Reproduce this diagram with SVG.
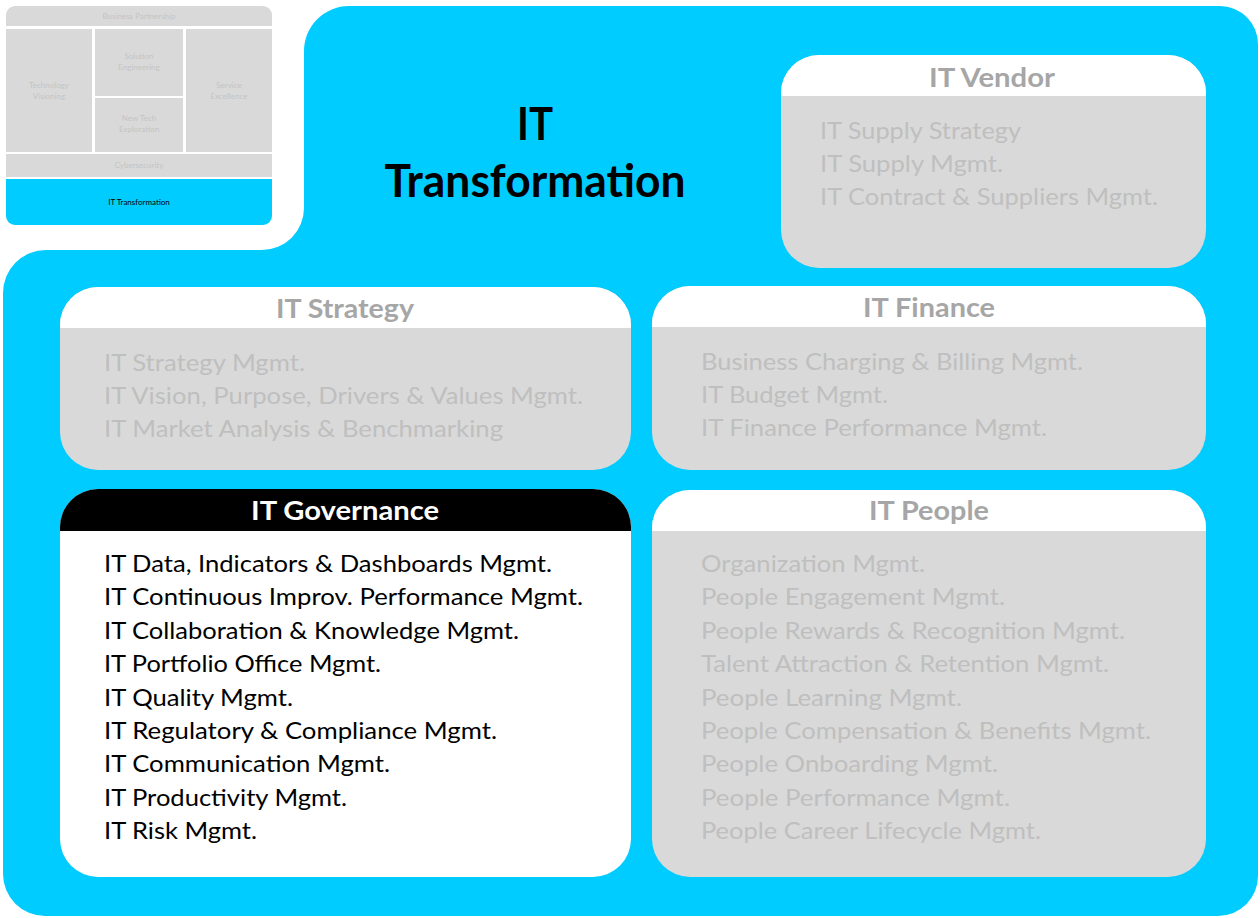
<svg xmlns="http://www.w3.org/2000/svg" width="1260" height="918" viewBox="0 0 1260 918">
<style>
.mini{fill:#d9d9d9}
.mt{font-family:Lato,"Liberation Sans",sans-serif;font-size:8px;fill:#c4c4c4;text-anchor:middle}
.body{fill:#d9d9d9}
.hdr{fill:#ffffff}
.ttl{font-family:Lato,"Liberation Sans",sans-serif;font-weight:bold;font-size:27px;fill:#a6a6a6;text-anchor:middle}
.it{font-family:Lato,"Liberation Sans",sans-serif;font-size:24px;fill:#bfbfbf}
.itb{font-family:Lato,"Liberation Sans",sans-serif;font-size:24px;fill:#000000}
</style>
<rect width="1260" height="918" fill="#ffffff"/>
<g id="mini-map">
<rect x="6" y="6" width="266" height="219" rx="9" fill="#ffffff"/>
<path class="mini" d="M6,15 A9,9 0 0 1 15,6 H263 A9,9 0 0 1 272,15 V26 H6 Z"/>
<rect class="mini" x="6" y="29" width="86" height="123"/>
<rect class="mini" x="95" y="29" width="88" height="67"/>
<rect class="mini" x="95" y="98" width="88" height="54"/>
<rect class="mini" x="186" y="29" width="86" height="123"/>
<rect class="mini" x="6" y="154" width="266" height="23"/>
<path d="M6,179 H272 V216 A9,9 0 0 1 263,225 H15 A9,9 0 0 1 6,216 Z" fill="#00ccff"/>
<text class="mt" x="139" y="19">Business Partnership</text>
<text class="mt" x="49" y="88">Technology</text>
<text class="mt" x="49" y="99">Visioning</text>
<text class="mt" x="139" y="59">Solution</text>
<text class="mt" x="139" y="70">Engineering</text>
<text class="mt" x="139" y="121">New Tech</text>
<text class="mt" x="139" y="132">Exploration</text>
<text class="mt" x="229" y="88">Service</text>
<text class="mt" x="229" y="99">Excellence</text>
<text class="mt" x="139" y="168">Cybersecurity</text>
<text x="139" y="205" font-family="Lato,'Liberation Sans',sans-serif" font-size="8" fill="#000000" text-anchor="middle">IT Transformation</text>
</g>
<g id="background">
<path d="M349,6 H1220 A38,38 0 0 1 1258,44 V876 A40,40 0 0 1 1218,916 H45 A42,42 0 0 1 3,874 V293 A43,43 0 0 1 46,250 H262 A42,42 0 0 0 304,208 V51 A45,45 0 0 1 349,6 Z" fill="#00ccff"/>
<text x="535" y="140" font-family="Lato,'Liberation Sans',sans-serif" font-weight="bold" font-size="45" text-anchor="middle" textLength="36" lengthAdjust="spacingAndGlyphs">IT</text>
<text x="535" y="197" font-family="Lato,'Liberation Sans',sans-serif" font-weight="bold" font-size="45" text-anchor="middle" textLength="301" lengthAdjust="spacingAndGlyphs">Transformation</text>
</g>
<g id="it-vendor">
<rect class="body" x="781" y="55" width="425" height="213" rx="38"/>
<path class="hdr" d="M781,93 A38,38 0 0 1 819,55 H1168 A38,38 0 0 1 1206,93 V96 H781 Z"/>
<text class="ttl" x="992" y="87" textLength="126" lengthAdjust="spacingAndGlyphs">IT Vendor</text>
<text class="it" x="820" y="139" textLength="201" lengthAdjust="spacingAndGlyphs">IT Supply Strategy</text>
<text class="it" x="820" y="172" textLength="183" lengthAdjust="spacingAndGlyphs">IT Supply Mgmt.</text>
<text class="it" x="820" y="205" textLength="338" lengthAdjust="spacingAndGlyphs">IT Contract &amp; Suppliers Mgmt.</text>
</g>
<g id="it-strategy">
<rect class="body" x="60" y="287" width="571" height="183" rx="38"/>
<path class="hdr" d="M60,325 A38,38 0 0 1 98,287 H593 A38,38 0 0 1 631,325 V328 H60 Z"/>
<text class="ttl" x="345" y="318" textLength="138" lengthAdjust="spacingAndGlyphs">IT Strategy</text>
<text class="it" x="104" y="371" textLength="201" lengthAdjust="spacingAndGlyphs">IT Strategy Mgmt.</text>
<text class="it" x="104" y="404" textLength="479" lengthAdjust="spacingAndGlyphs">IT Vision, Purpose, Drivers &amp; Values Mgmt.</text>
<text class="it" x="104" y="437" textLength="399" lengthAdjust="spacingAndGlyphs">IT Market Analysis &amp; Benchmarking</text>
</g>
<g id="it-finance">
<rect class="body" x="652" y="286" width="554" height="184" rx="38"/>
<path class="hdr" d="M652,324 A38,38 0 0 1 690,286 H1168 A38,38 0 0 1 1206,324 V327 H652 Z"/>
<text class="ttl" x="929" y="317" textLength="132" lengthAdjust="spacingAndGlyphs">IT Finance</text>
<text class="it" x="701" y="370" textLength="382" lengthAdjust="spacingAndGlyphs">Business Charging &amp; Billing Mgmt.</text>
<text class="it" x="701" y="403" textLength="187" lengthAdjust="spacingAndGlyphs">IT Budget Mgmt.</text>
<text class="it" x="701" y="436" textLength="346" lengthAdjust="spacingAndGlyphs">IT Finance Performance Mgmt.</text>
</g>
<g id="it-governance">
<rect x="60" y="489" width="571" height="388" rx="38" fill="#ffffff"/>
<path d="M60,527 A38,38 0 0 1 98,489 H593 A38,38 0 0 1 631,527 V531 H60 Z" fill="#000000"/>
<text class="ttl" x="345" y="520" style="fill:#ffffff" textLength="188" lengthAdjust="spacingAndGlyphs">IT Governance</text>
<text class="itb" x="104" y="572" textLength="448" lengthAdjust="spacingAndGlyphs">IT Data, Indicators &amp; Dashboards Mgmt.</text>
<text class="itb" x="104" y="605.4" textLength="479" lengthAdjust="spacingAndGlyphs">IT Continuous Improv. Performance Mgmt.</text>
<text class="itb" x="104" y="638.8" textLength="415" lengthAdjust="spacingAndGlyphs">IT Collaboration &amp; Knowledge Mgmt.</text>
<text class="itb" x="104" y="672.2" textLength="277" lengthAdjust="spacingAndGlyphs">IT Portfolio Office Mgmt.</text>
<text class="itb" x="104" y="705.6" textLength="189" lengthAdjust="spacingAndGlyphs">IT Quality Mgmt.</text>
<text class="itb" x="104" y="739" textLength="393" lengthAdjust="spacingAndGlyphs">IT Regulatory &amp; Compliance Mgmt.</text>
<text class="itb" x="104" y="772.4" textLength="286" lengthAdjust="spacingAndGlyphs">IT Communication Mgmt.</text>
<text class="itb" x="104" y="805.8" textLength="243" lengthAdjust="spacingAndGlyphs">IT Productivity Mgmt.</text>
<text class="itb" x="104" y="839.2" textLength="153" lengthAdjust="spacingAndGlyphs">IT Risk Mgmt.</text>
</g>
<g id="it-people">
<rect class="body" x="652" y="490" width="554" height="387" rx="38"/>
<path class="hdr" d="M652,528 A38,38 0 0 1 690,490 H1168 A38,38 0 0 1 1206,528 V531 H652 Z"/>
<text class="ttl" x="929" y="520" textLength="120" lengthAdjust="spacingAndGlyphs">IT People</text>
<text class="it" x="701" y="572" textLength="224" lengthAdjust="spacingAndGlyphs">Organization Mgmt.</text>
<text class="it" x="701" y="605.4" textLength="304" lengthAdjust="spacingAndGlyphs">People Engagement Mgmt.</text>
<text class="it" x="701" y="638.8" textLength="424" lengthAdjust="spacingAndGlyphs">People Rewards &amp; Recognition Mgmt.</text>
<text class="it" x="701" y="672.2" textLength="408" lengthAdjust="spacingAndGlyphs">Talent Attraction &amp; Retention Mgmt.</text>
<text class="it" x="701" y="705.6" textLength="261" lengthAdjust="spacingAndGlyphs">People Learning Mgmt.</text>
<text class="it" x="701" y="739" textLength="450" lengthAdjust="spacingAndGlyphs">People Compensation &amp; Benefits Mgmt.</text>
<text class="it" x="701" y="772.4" textLength="297" lengthAdjust="spacingAndGlyphs">People Onboarding Mgmt.</text>
<text class="it" x="701" y="805.8" textLength="309" lengthAdjust="spacingAndGlyphs">People Performance Mgmt.</text>
<text class="it" x="701" y="839.2" textLength="340" lengthAdjust="spacingAndGlyphs">People Career Lifecycle Mgmt.</text>
</g>
<g id="connectors"></g>
</svg>
